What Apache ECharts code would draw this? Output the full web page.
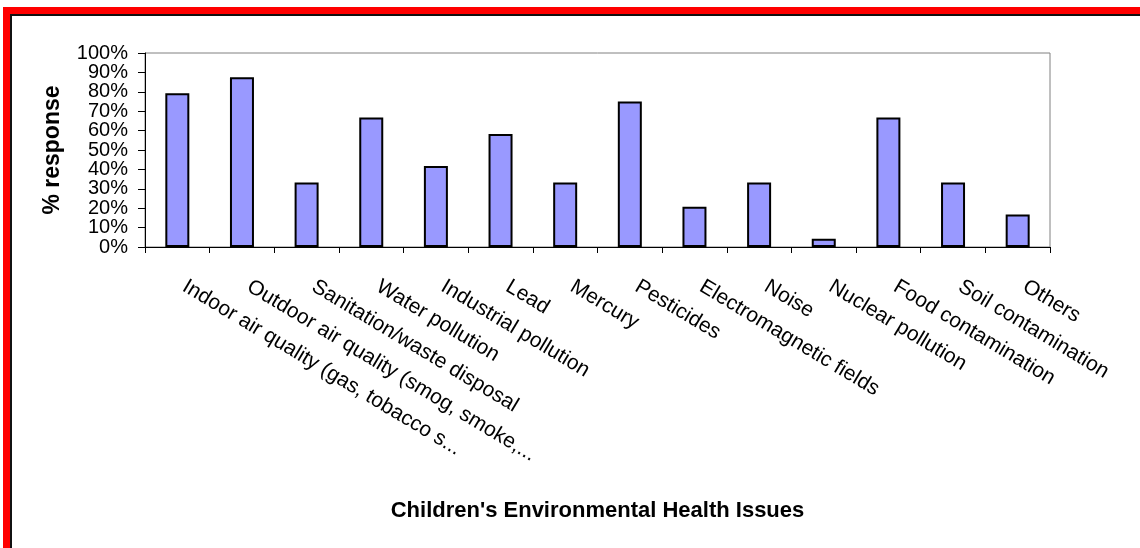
<!DOCTYPE html>
<html>
<head>
<meta charset="utf-8">
<script src="https://cdn.jsdelivr.net/npm/echarts@6/dist/echarts.min.js"></script>
<style>
html,body{margin:0;padding:0;background:#fff;}
#chart{width:1140px;height:548px;}
</style>
</head>
<body>
<div id="chart"></div>
<script>
const categories = [
  "Indoor air quality (gas, tobacco s...",
  "Outdoor air quality (smog, smoke,...",
  "Sanitation/waste disposal",
  "Water pollution",
  "Industrial pollution",
  "Lead",
  "Mercury",
  "Pesticides",
  "Electromagnetic fields",
  "Noise",
  "Nuclear pollution",
  "Food contamination",
  "Soil contamination",
  "Others"
];
const responsePct = [79.2, 87.5, 33.3, 66.7, 41.7, 58.3, 33.3, 75.0, 20.8, 33.3, 4.2, 66.7, 33.3, 16.7];
const yTicksEven = [0, 20, 40, 60, 80, 100];
const yTicksOdd = [10, 30, 50, 70, 90];
const yAxisTitle = "% response";
const xAxisTitle = "Children's Environmental Health Issues";

const FONT = "'Liberation Sans', Arial, sans-serif";
const chart = echarts.init(document.getElementById('chart'), null, {renderer: 'canvas'});
const yLabel = (vals) => ({
  customValues: vals, formatter: '{value}%', margin: 17,
  showMinLabel: true, showMaxLabel: true, hideOverlap: false,
  fontFamily: FONT, fontSize: 20, color: '#000'
});
chart.setOption({
  backgroundColor: '#ffffff',
  animation: false,
  textStyle: {fontFamily: FONT},
  graphic: [
    {type: 'rect', shape: {x: 3, y: 7, width: 1137, height: 7}, style: {fill: '#ff0000'}, silent: true},
    {type: 'rect', shape: {x: 3, y: 7, width: 7, height: 541}, style: {fill: '#ff0000'}, silent: true},
    {type: 'rect', shape: {x: 10, y: 14, width: 1130, height: 2}, style: {fill: '#111111'}, silent: true},
    {type: 'rect', shape: {x: 10, y: 14, width: 2, height: 534}, style: {fill: '#111111'}, silent: true}
  ],
  grid: {
    left: 145, right: 90, top: 53, bottom: 301,
    show: true, borderColor: '#808080', borderWidth: 1, backgroundColor: 'transparent'
  },
  xAxis: {
    type: 'category',
    data: categories,
    boundaryGap: true,
    axisLine: {show: true, lineStyle: {color: '#000', width: 1}},
    axisTick: {show: true, length: 6, alignWithLabel: false, lineStyle: {color: '#000'}},
    axisLabel: {
      interval: 0, rotate: -31, margin: 34, padding: [0, 0, 0, 8],
      fontFamily: FONT, fontSize: 21, color: '#000'
    },
    name: xAxisTitle,
    nameLocation: 'middle',
    nameGap: 253,
    nameTextStyle: {fontFamily: FONT, fontSize: 22, fontWeight: 'bold', color: '#000'}
  },
  yAxis: [{
    type: 'value',
    min: 0, max: 100, interval: 10,
    position: 'left',
    axisLine: {show: true, lineStyle: {color: '#000', width: 1}},
    axisTick: {show: true, length: 7, lineStyle: {color: '#000'}},
    splitLine: {show: false},
    axisLabel: yLabel(yTicksEven),
    name: yAxisTitle,
    nameLocation: 'middle',
    nameGap: 81,
    nameTextStyle: {fontFamily: FONT, fontSize: 23, fontWeight: 'bold', color: '#000'}
  }, {
    type: 'value',
    min: 0, max: 100, interval: 10,
    position: 'left', offset: 0,
    axisLine: {show: false},
    axisTick: {show: false},
    splitLine: {show: false},
    axisLabel: yLabel(yTicksOdd)
  }],
  series: [{
    type: 'bar',
    data: responsePct,
    barWidth: 24,
    itemStyle: {color: '#9999ff', borderColor: '#000', borderWidth: 2}
  }]
});
</script>
</body>
</html>
